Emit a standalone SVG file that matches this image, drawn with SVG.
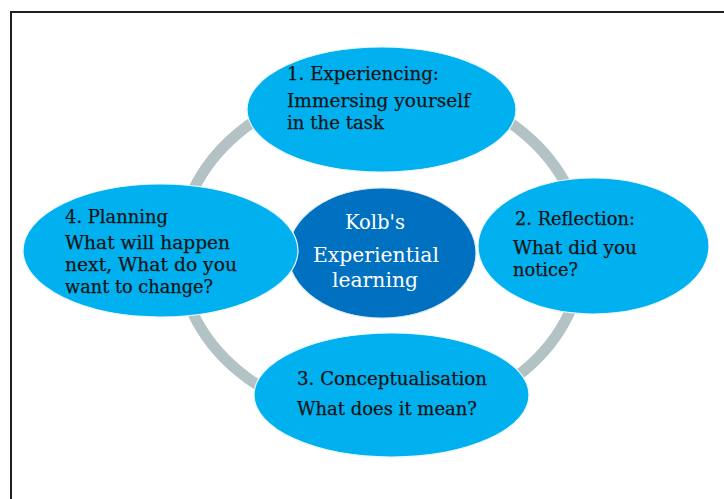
<svg xmlns="http://www.w3.org/2000/svg" width="724" height="499" viewBox="0 0 724 499">
  <style>
    .stage { fill: #00b0ef; stroke: #e6f6fd; stroke-width: 1.2; }
    .hub { fill: #0070c0; stroke: #dbe9f5; stroke-width: 1.2; }
    .lbl { font-family: "DejaVu Serif", "Liberation Serif", serif; font-size: 19px; fill: #141414; stroke: #141414; stroke-width: 0.25; }
    .hubtxt { font-family: "DejaVu Serif", "Liberation Serif", serif; font-size: 21px; fill: #ffffff; }
  </style>
  <rect x="0" y="0" width="724" height="499" fill="#ffffff"/>
  <!-- page frame -->
  <rect x="11" y="12" width="730" height="500" fill="none" stroke="#1f1f1f" stroke-width="2"/>

  <!-- cycle ring -->
  <g id="connectors">
    <ellipse cx="381" cy="252" rx="202" ry="168" fill="none" stroke="#b3c2c4" stroke-width="11"/>
  </g>

  <!-- centre -->
  <g id="kolb">
    <ellipse class="hub" cx="382" cy="253" rx="94" ry="65"/>
    <text class="hubtxt" x="375" y="229" text-anchor="middle" textLength="60" lengthAdjust="spacingAndGlyphs">Kolb's</text>
    <text class="hubtxt" x="376" y="262" text-anchor="middle" textLength="126" lengthAdjust="spacingAndGlyphs">Experiential</text>
    <text class="hubtxt" x="375" y="287" text-anchor="middle" textLength="86" lengthAdjust="spacingAndGlyphs">learning</text>
  </g>

  <!-- stage 1 -->
  <g id="experiencing">
    <ellipse class="stage" cx="381.5" cy="109.5" rx="134.5" ry="62.5"/>
    <text class="lbl" x="287" y="80" textLength="152" lengthAdjust="spacingAndGlyphs">1. Experiencing:</text>
    <text class="lbl" x="287" y="107" textLength="183" lengthAdjust="spacingAndGlyphs">Immersing yourself</text>
    <text class="lbl" x="287" y="129" textLength="97" lengthAdjust="spacingAndGlyphs">in the task</text>
  </g>

  <!-- stage 2 -->
  <g id="reflection">
    <ellipse class="stage" cx="593.5" cy="246" rx="115.5" ry="68"/>
    <text class="lbl" x="515" y="225" textLength="120" lengthAdjust="spacingAndGlyphs">2. Reflection:</text>
    <text class="lbl" x="513" y="254" textLength="124" lengthAdjust="spacingAndGlyphs">What did you</text>
    <text class="lbl" x="513" y="276" textLength="65" lengthAdjust="spacingAndGlyphs">notice?</text>
  </g>

  <!-- stage 3 -->
  <g id="conceptualisation">
    <ellipse class="stage" cx="391.5" cy="395" rx="137.5" ry="62"/>
    <text class="lbl" x="297" y="385" textLength="190" lengthAdjust="spacingAndGlyphs">3. Conceptualisation</text>
    <text class="lbl" x="297" y="415" textLength="180" lengthAdjust="spacingAndGlyphs">What does it mean?</text>
  </g>

  <!-- stage 4 -->
  <g id="planning">
    <ellipse class="stage" cx="160.5" cy="250.5" rx="137.5" ry="66.5"/>
    <text class="lbl" x="65" y="223" textLength="103" lengthAdjust="spacingAndGlyphs">4. Planning</text>
    <text class="lbl" x="65" y="249" textLength="165" lengthAdjust="spacingAndGlyphs">What will happen</text>
    <text class="lbl" x="65" y="271" textLength="172" lengthAdjust="spacingAndGlyphs">next,  What do you</text>
    <text class="lbl" x="65" y="293" textLength="148" lengthAdjust="spacingAndGlyphs">want to change?</text>
  </g>
</svg>
